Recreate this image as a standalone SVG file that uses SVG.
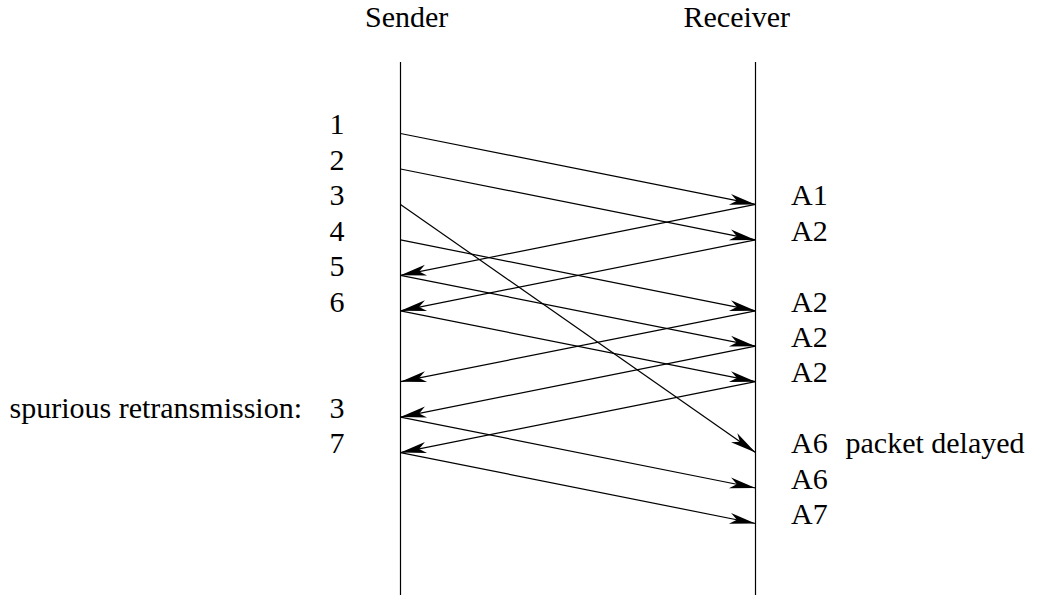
<svg xmlns="http://www.w3.org/2000/svg" width="1038" height="595" viewBox="0 0 1038 595">
  <style>
    text { font-family: "Liberation Serif", "Times New Roman", serif; font-size: 30px; fill: #000; }
    .num { text-anchor: middle; }
    .life { stroke: #000; stroke-width: 1.2; fill: none; }
    .msg { stroke: #000; stroke-width: 1.2; fill: none; marker-end: url(#head); }
  </style>
  <defs>
    <!-- barbed filled arrowhead, tip at the line end -->
    <marker id="head" markerUnits="userSpaceOnUse" markerWidth="30" markerHeight="14" viewBox="-27 -7 30 14" refX="0" refY="0" orient="auto" overflow="visible">
      <path d="M0,0 L-26,-5.5 L-19,0 L-26,5.5 Z" fill="#000"/>
    </marker>
  </defs>

  <rect width="1038" height="595" fill="#fff"/>

  <!-- sender lifeline -->
  <g id="sender">
    <text x="365" y="27">Sender</text>
    <line class="life" x1="400.5" y1="62" x2="400.5" y2="595"/>
    <text class="num" x="337" y="134">1</text>
    <text class="num" x="337" y="169.5">2</text>
    <text class="num" x="337" y="205">3</text>
    <text class="num" x="337" y="240.5">4</text>
    <text class="num" x="337" y="276">5</text>
    <text class="num" x="337" y="311.5">6</text>
    <text x="9.5" y="417.5">spurious retransmission:</text>
    <text class="num" x="337" y="417.5">3</text>
    <text class="num" x="337" y="453">7</text>
  </g>

  <!-- receiver lifeline -->
  <g id="receiver">
    <text x="683.5" y="27">Receiver</text>
    <line class="life" x1="755.5" y1="62" x2="755.5" y2="595"/>
    <text x="791" y="205">A1</text>
    <text x="791" y="240.5">A2</text>
    <text x="791" y="311.5">A2</text>
    <text x="791" y="347">A2</text>
    <text x="791" y="382">A2</text>
    <text x="791" y="453">A6</text>
    <text x="845.5" y="453">packet delayed</text>
    <text x="791" y="488.5">A6</text>
    <text x="791" y="524">A7</text>
  </g>

  <!-- messages: data segments left to right, acknowledgements right to left -->
  <g id="connectors">
    <line class="msg" x1="400.5" y1="133.5" x2="755.5" y2="204.4"/>
    <line class="msg" x1="400.5" y1="169" x2="755.5" y2="239.9"/>
    <line class="msg" x1="400.5" y1="204.4" x2="755.5" y2="452.6"/>
    <line class="msg" x1="400.5" y1="239.9" x2="755.5" y2="310.8"/>
    <line class="msg" x1="400.5" y1="275.3" x2="755.5" y2="346.2"/>
    <line class="msg" x1="400.5" y1="310.8" x2="755.5" y2="381.7"/>
    <line class="msg" x1="400.5" y1="417.1" x2="755.5" y2="488"/>
    <line class="msg" x1="400.5" y1="452.6" x2="755.5" y2="523.5"/>

    <line class="msg" x1="755.5" y1="204.4" x2="400.5" y2="275.3"/>
    <line class="msg" x1="755.5" y1="239.9" x2="400.5" y2="310.8"/>
    <line class="msg" x1="755.5" y1="310.8" x2="400.5" y2="381.7"/>
    <line class="msg" x1="755.5" y1="346.2" x2="400.5" y2="417.1"/>
    <line class="msg" x1="755.5" y1="381.7" x2="400.5" y2="452.6"/>
  </g>
</svg>
